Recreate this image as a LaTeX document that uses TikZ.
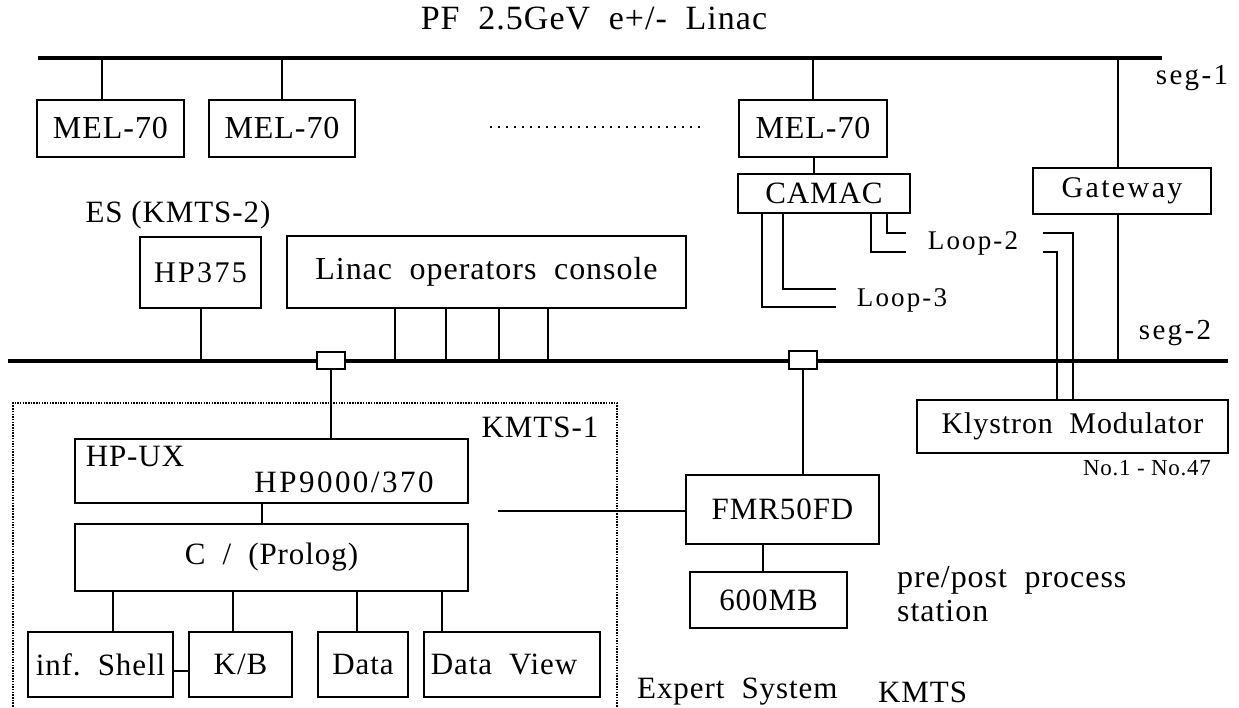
\documentclass[tikz,border=0pt]{standalone}
\usepackage{fontspec}
\setmainfont{Liberation Serif}
\newfontfamily\fA[LetterSpace=3]{Liberation Serif}
\newfontfamily\fB[LetterSpace=8]{Liberation Serif}
\newcommand\fsA[1]{\fontsize{#1}{#1}\fA}
\newcommand\fsB[1]{\fontsize{#1}{#1}\fB}
\newcommand\wsp{\hspace{0.55em}}
\begin{document}
\begin{tikzpicture}[x=1pt,y=-1pt,
  bus/.style={line width=4.5pt},
  conn/.style={line width=2pt},
  box/.style={draw, line width=2.4pt, inner sep=0pt, font=\fsA{31}},
  lbl/.style={inner sep=0pt, font=\fsA{31}},
  wide/.style={inner sep=0pt, font=\fsB{29}},
  tap/.style={draw, fill=white, line width=2pt, inner sep=0pt, minimum width=28, minimum height=17},
  dotbox/.style={line width=1.2pt, dash pattern=on 1.5pt off 1.2pt}
]
\useasboundingbox (0,0) rectangle (1239,708);

% buses
\coordinate (b1l) at (38,58); \coordinate (b1r) at (1162,58);
\coordinate (b2l) at (8,361); \coordinate (b2r) at (1228,361);
\draw[bus] (b1l) -- (b1r);
\draw[bus] (b2l) -- (b2r);

% title and segment labels
\node[lbl, font=\fsA{34}] (title) at (594,19) {PF\wsp2.5GeV\wsp e+/-\wsp Linac};
\node[wide] (seg1) at (1192,78) {seg-1};
\node[wide] (seg2) at (1175,333) {seg-2};

% MEL-70 row
\node[box, minimum width=147, minimum height=57, font=\fsA{32}] (mel1) at (110.5,128.5) {MEL-70};
\node[box, minimum width=146, minimum height=57, font=\fsA{32}] (mel2) at (282,128.5) {MEL-70};
\node[box, minimum width=148, minimum height=57, font=\fsA{32}] (mel3) at (813,128.5) {MEL-70};
\draw[conn] ([xshift=-8.5pt]mel1.north) -- ([xshift=-8.5pt]mel1.north |- b1l);
\draw[conn] (mel2.north) -- (mel2.north |- b1l);
\draw[conn] (mel3.north) -- (mel3.north |- b1l);
\coordinate (d1) at (490,127); \coordinate (d2) at (705,127);
\draw[line width=2pt, dash pattern=on 2pt off 6pt] (d1) -- (d2);

% CAMAC and loops
\node[box, minimum width=172, minimum height=39] (camac) at (824,193.5) {CAMAC};
\draw[conn] ([xshift=-10pt]camac.north) -- ([xshift=-10pt]camac.north |- mel3.south);
\coordinate (l3a) at (836,307); \coordinate (l3b) at (836,289);
\coordinate (l2a) at (906,252); \coordinate (l2b) at (906,233);
\draw[conn] (l3a) -| ([xshift=-62pt]camac.south);
\draw[conn] (l3b) -| ([xshift=-41pt]camac.south);
\draw[conn] (l2a) -| ([xshift=47pt]camac.south);
\draw[conn] (l2b) -| ([xshift=63pt]camac.south);
\node[wide, font=\fsB{27}] (loop2) at (973,243) {Loop-2};
\node[wide, font=\fsB{27}] (loop3) at (902,300) {Loop-3};

% Gateway
\node[box, minimum width=178, minimum height=46, font=\fsB{30}] (gw) at (1122,191) {Gateway};
\draw[conn] ([xshift=-4pt]gw.north) -- ([xshift=-4pt]gw.north |- b1l);
\draw[conn] ([xshift=-4pt]gw.south) -- ([xshift=-4pt]gw.south |- b2l);

% Klystron modulator
\node[box, minimum width=311, minimum height=53, font=\fsA{30}] (kly) at (1072.5,426.5) {Klystron\wsp Modulator};
\coordinate (k2a) at (1043,233); \coordinate (k2b) at (1043,252);
\draw[conn] (k2a) -| ([xshift=0.5pt]kly.north);
\draw[conn] (k2b) -| ([xshift=-15.5pt]kly.north);
\node[lbl, font=\fsA{23}] (nos) at (1147,468) {No.1\ -\ No.47};

% ES / console
\node[lbl] (es) at (178,215) {ES (KMTS-2)};
\node[box, minimum width=121, minimum height=71, font=\fsB{30}] (hp375) at (200.5,272.5) {HP375};
\draw[conn] (hp375.south) -- (hp375.south |- b2l);
\node[box, minimum width=399, minimum height=72, font=\fsA{32}] (cons) at (486.5,272) {Linac\wsp operators\wsp console};
\foreach \x in {395,446,499,548}{
  \coordinate (cx) at (\x,0);
  \draw[conn] (cons.south -| cx) -- (b2l -| cx);
}

% taps on seg-2
\node[tap] (sq1) at (331,360.5) {};
\node[tap] (sq2) at (802.5,360) {};

% KMTS-1 group
\draw[dotbox] (13,712) -- (13,403) -- (617,403) -- (617,712);
\node[lbl] (kmts1) at (540,427) {KMTS-1};
\node[box, minimum width=393, minimum height=64] (hpux) at (271.5,471) {};
\node[lbl] (hpuxt) at (135,457) {HP-UX};
\node[lbl, font=\fsB{31}] (hp9000) at (344,482) {HP9000/370};
\draw[conn] (sq1.south) -- (sq1.south |- hpux.north);
\node[box, minimum width=393, minimum height=67] (cbox) at (271.5,557.5) {C\wsp/\wsp(Prolog)};
\draw[conn] ([xshift=-9.5pt]hpux.south) -- ([xshift=-9.5pt]hpux.south |- cbox.north);
\node[box, minimum width=145, minimum height=65] (inf) at (100.5,664.5) {inf.\wsp Shell};
\node[box, minimum width=103, minimum height=65] (kb) at (240.5,664.5) {K/B};
\node[box, minimum width=90, minimum height=65] (data) at (363,664.5) {Data};
\node[box, minimum width=176, minimum height=65] (dv) at (512,664.5) {};
\node[lbl] (dvt) at (504,664.5) {Data\wsp View};
\draw[conn] ([xshift=12.5pt]inf.north) -- ([xshift=12.5pt]inf.north |- cbox.south);
\draw[conn] ([xshift=-7.5pt]kb.north) -- ([xshift=-7.5pt]kb.north |- cbox.south);
\draw[conn] ([xshift=-6pt]data.north) -- ([xshift=-6pt]data.north |- cbox.south);
\draw[conn] ([xshift=-70pt]dv.north) -- ([xshift=-70pt]dv.north |- cbox.south);
\draw[conn] ([yshift=-6.5pt]inf.east) -- ([yshift=-6.5pt]inf.east -| kb.west);

% FMR station
\node[box, minimum width=193, minimum height=69] (fmr) at (782.5,509.5) {FMR50FD};
\draw[conn] (sq2.south) -- (sq2.south |- fmr.north);
\node[box, minimum width=157, minimum height=56] (mb) at (768.5,600) {600MB};
\draw[conn] ([xshift=-5.5pt]mb.north) -- ([xshift=-5.5pt]mb.north |- fmr.south);
\coordinate (hl) at (498,511);
\draw[conn] (hl) -- (hl -| fmr.west);
\node[lbl, anchor=west, font=\fsA{32}] (pre) at (897,580) {pre/post\wsp process};
\node[lbl, anchor=west, font=\fsA{32}] (stat) at (897,611) {station};
\node[lbl, anchor=west] (exs) at (637,692) {Expert\wsp System};
\node[lbl, anchor=west] (kmts) at (878,692) {KMTS};
\end{tikzpicture}
\end{document}
